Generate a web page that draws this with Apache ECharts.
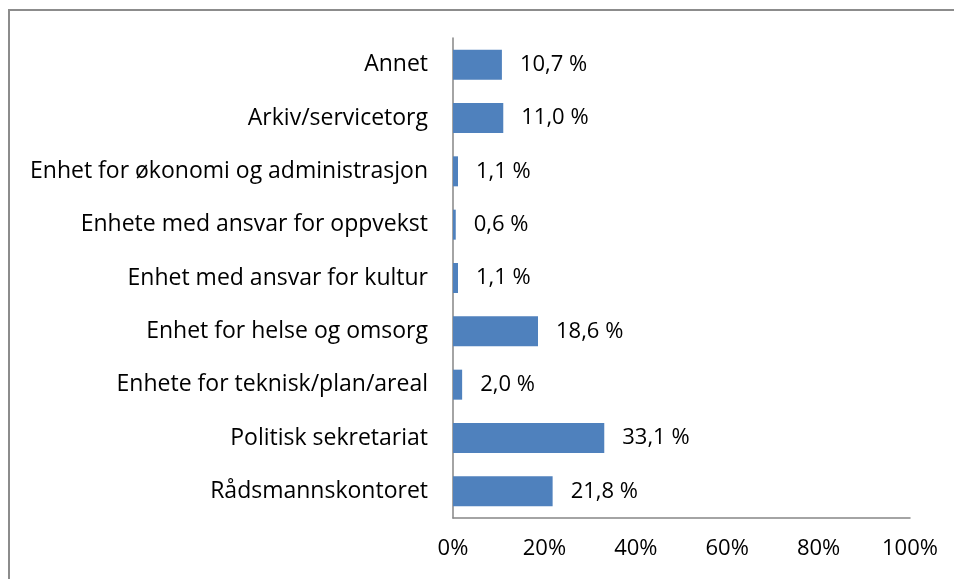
<!DOCTYPE html>
<html>
<head>
<meta charset="utf-8">
<script src="https://cdn.jsdelivr.net/npm/echarts@6/dist/echarts.min.js"></script>
<style>
  html, body { margin: 0; padding: 0; background: #fff; }
  #chart { width: 954px; height: 579px; }
</style>
</head>
<body>
<div id="chart"></div>
<script>
// kategorier, ovenfra og ned
const categories = [
  'Annet',
  'Arkiv/servicetorg',
  'Enhet for økonomi og administrasjon',
  'Enhete med ansvar for oppvekst',
  'Enhet med ansvar for kultur',
  'Enhet for helse og omsorg',
  'Enhete for teknisk/plan/areal',
  'Politisk sekretariat',
  'Rådsmannskontoret'
];
const values = [10.7, 11.0, 1.1, 0.6, 1.1, 18.6, 2.0, 33.1, 21.8];
const tickValues = [0, 20, 40, 60, 80, 100];

const font = '"Open Sans", sans-serif';
const chart = echarts.init(document.getElementById('chart'));

const option = {
  animation: false,
  backgroundColor: '#fff',
  graphic: [
    {
      type: 'rect',
      shape: { x: 9, y: 10, width: 1000, height: 700 },
      style: { fill: 'none', stroke: '#8c8c8c', lineWidth: 2 }
    }
  ],
  grid: { left: 453, right: 44, top: 38, bottom: 61 },
  xAxis: {
    type: 'value',
    min: 0,
    max: 100,
    interval: 20,
    splitLine: { show: false },
    axisLine: { show: true, lineStyle: { color: '#868686', width: 1.5 } },
    axisTick: { show: false },
    axisLabel: {
      margin: 20,
      color: '#000',
      fontFamily: font,
      fontSize: 22,
      formatter: (v) => tickValues.includes(v) ? v + '%' : ''
    }
  },
  yAxis: {
    type: 'category',
    inverse: true,
    data: categories,
    axisLine: { show: true, lineStyle: { color: '#868686', width: 1.5 } },
    axisTick: { show: false },
    axisLabel: {
      margin: 25,
      color: '#000',
      fontFamily: font,
      fontSize: 23,
      padding: [5, 0, 0, 0]
    }
  },
  series: [
    {
      type: 'bar',
      data: values,
      barWidth: 30,
      itemStyle: { color: '#4F81BD' },
      label: {
        show: true,
        position: 'right',
        distance: 18,
        color: '#000',
        fontFamily: font,
        fontSize: 22,
        padding: [5, 0, 0, 0],
        formatter: (p) => p.value.toFixed(1).replace('.', ',') + ' %'
      }
    }
  ]
};

chart.setOption(option);
</script>
</body>
</html>
